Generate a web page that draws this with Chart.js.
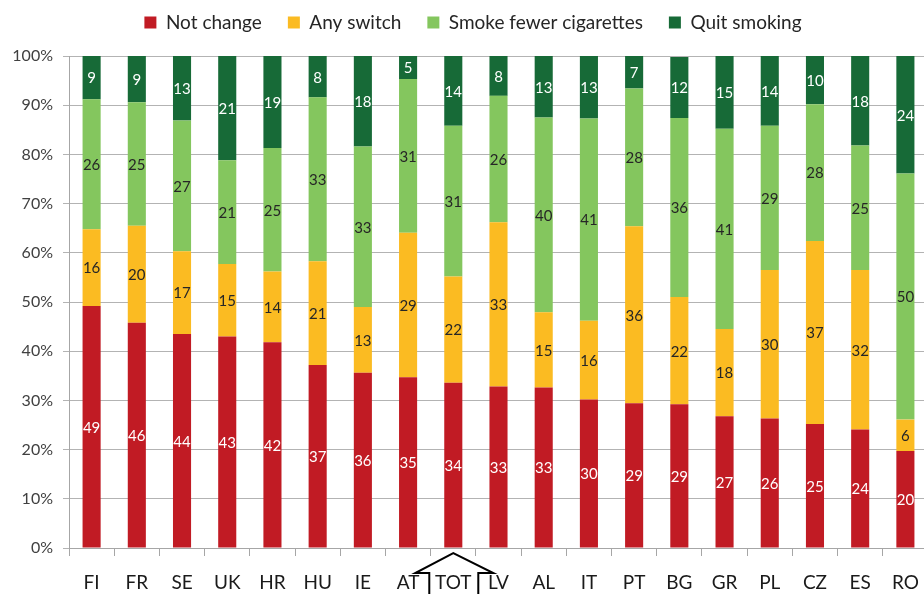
<!DOCTYPE html>
<html>
<head>
<meta charset="utf-8">
<script src="https://cdn.jsdelivr.net/npm/chart.js@4/dist/chart.umd.min.js"></script>
<style>
  html, body { margin: 0; padding: 0; background: #fff; overflow: hidden; }
  #wrap { width: 940px; height: 594px; }
</style>
</head>
<body>
<div id="wrap"><canvas id="chart" width="940" height="594"></canvas></div>
<script>
// Categories (countries, TOT = total)
const countries = ['FI', 'FR', 'SE', 'UK', 'HR', 'HU', 'IE', 'AT', 'TOT', 'LV', 'AL', 'IT', 'PT', 'BG', 'GR', 'PL', 'CZ', 'ES', 'RO'];

// Shares in percent
const notChange   = [49.2, 45.8, 43.5, 43.0, 41.8, 37.2, 35.6, 34.7, 33.6, 32.8, 32.6, 30.2, 29.4, 29.2, 26.8, 26.3, 25.2, 24.1, 19.7];
const anySwitch   = [15.6, 19.7, 16.8, 14.7, 14.4, 21.1, 13.4, 29.4, 21.6, 33.4, 15.3, 16.0, 36.0, 21.8, 17.7, 30.2, 37.2, 32.4, 6.4];
const smokeFewer  = [26.4, 25.1, 26.6, 21.1, 25.1, 33.3, 32.6, 31.2, 30.6, 25.7, 39.6, 41.1, 28.0, 36.4, 40.7, 29.3, 27.8, 25.3, 50.0];
const quitSmoking = [8.8, 9.4, 13.1, 21.2, 18.7, 8.4, 18.4, 4.7, 14.2, 8.1, 12.5, 12.7, 6.6, 12.4, 14.8, 14.2, 9.8, 18.2, 23.9];

const yTicks = [0, 10, 20, 30, 40, 50, 60, 70, 80, 90, 100];

const FONT = 'Lato, "Open Sans", sans-serif';

// Draw the rounded value in the middle of each segment
const segmentLabels = {
    id: 'segmentLabels',
    afterDatasetsDraw(chart) {
        const ctx = chart.ctx;
        ctx.save();
        ctx.font = '15px ' + FONT;
        ctx.textAlign = 'center';
        ctx.textBaseline = 'middle';
        chart.data.datasets.forEach((ds, i) => {
            const meta = chart.getDatasetMeta(i);
            meta.data.forEach((bar, j) => {
                ctx.fillStyle = ds.labelColor;
                ctx.fillText(Math.round(ds.data[j]), bar.x, (bar.y + bar.base) / 2 + 1);
            });
        });
        ctx.restore();
    }
};

// extra room between the legend and the plot, and nudge it right a bit
const legendSpacer = {
    id: 'legendSpacer',
    beforeLayout(chart) {
        const lg = chart.legend;
        if (lg && !lg._spaced) {
            const fit = lg.fit;
            lg.fit = function() { fit.call(this); this.height += 14; };
            lg._spaced = true;
        }
    },
    afterLayout(chart) {
        if (chart.legend) chart.legend.left += 18;
    }
};

// The little "house" bracket round the TOT label
const totBracket = {
    id: 'totBracket',
    afterDraw(chart) {
        const x = chart.scales.x;
        const cx = x.getPixelForValue(countries.indexOf('TOT'));
        const ctx = chart.ctx;
        ctx.save();
        ctx.strokeStyle = '#000';
        ctx.lineWidth = 2;
        ctx.beginPath();
        ctx.moveTo(cx - 24, 596);
        ctx.lineTo(cx - 24, 573);
        ctx.lineTo(cx - 38, 573);
        ctx.lineTo(cx, 553);
        ctx.lineTo(cx + 40, 573);
        ctx.lineTo(cx + 25, 573);
        ctx.lineTo(cx + 25, 596);
        ctx.stroke();
        ctx.restore();
    }
};

new Chart(document.getElementById('chart'), {
    type: 'bar',
    data: {
        labels: countries,
        datasets: [
            { label: 'Not change', data: notChange, backgroundColor: '#C11B24', labelColor: '#fff' },
            { label: 'Any switch', data: anySwitch, backgroundColor: '#FBBB22', labelColor: '#262626' },
            { label: 'Smoke fewer cigarettes', data: smokeFewer, backgroundColor: '#84C65E', labelColor: '#262626' },
            { label: 'Quit smoking', data: quitSmoking, backgroundColor: '#176A37', labelColor: '#fff' }
        ]
    },
    options: {
        responsive: false,
        animation: false,
        categoryPercentage: 1,
        barPercentage: 0.4,
        layout: { padding: { top: -13, right: 12, left: 0, bottom: 0 } },
        plugins: {
            legend: {
                position: 'top',
                labels: {
                    boxWidth: 12,
                    boxHeight: 12,
                    padding: 26,
                    color: '#262626',
                    font: { family: FONT, size: 19 }
                }
            },
            tooltip: { enabled: false }
        },
        scales: {
            x: {
                stacked: true,
                afterFit(scale) { scale.height = 46; },
                grid: { display: true, drawOnChartArea: false, offset: true, color: '#A6A6A6', tickLength: 8 },
                border: { display: true, color: '#A6A6A6' },
                ticks: { color: '#1a1a1a', padding: 15, font: { family: FONT, size: 19 }, maxRotation: 0 }
            },
            y: {
                stacked: true,
                min: 0,
                max: 100,
                afterFit(scale) { scale.width = 69; },
                afterBuildTicks(scale) { scale.ticks = yTicks.map(v => ({ value: v })); },
                grid: { color: '#B3B3B3', tickLength: 6 },
                border: { display: true, color: '#A6A6A6' },
                ticks: {
                    color: '#404040',
                    padding: 10,
                    font: { family: FONT, size: 16 },
                    callback: v => v + '%'
                }
            }
        }
    },
    plugins: [segmentLabels, legendSpacer, totBracket]
});
</script>
</body>
</html>
